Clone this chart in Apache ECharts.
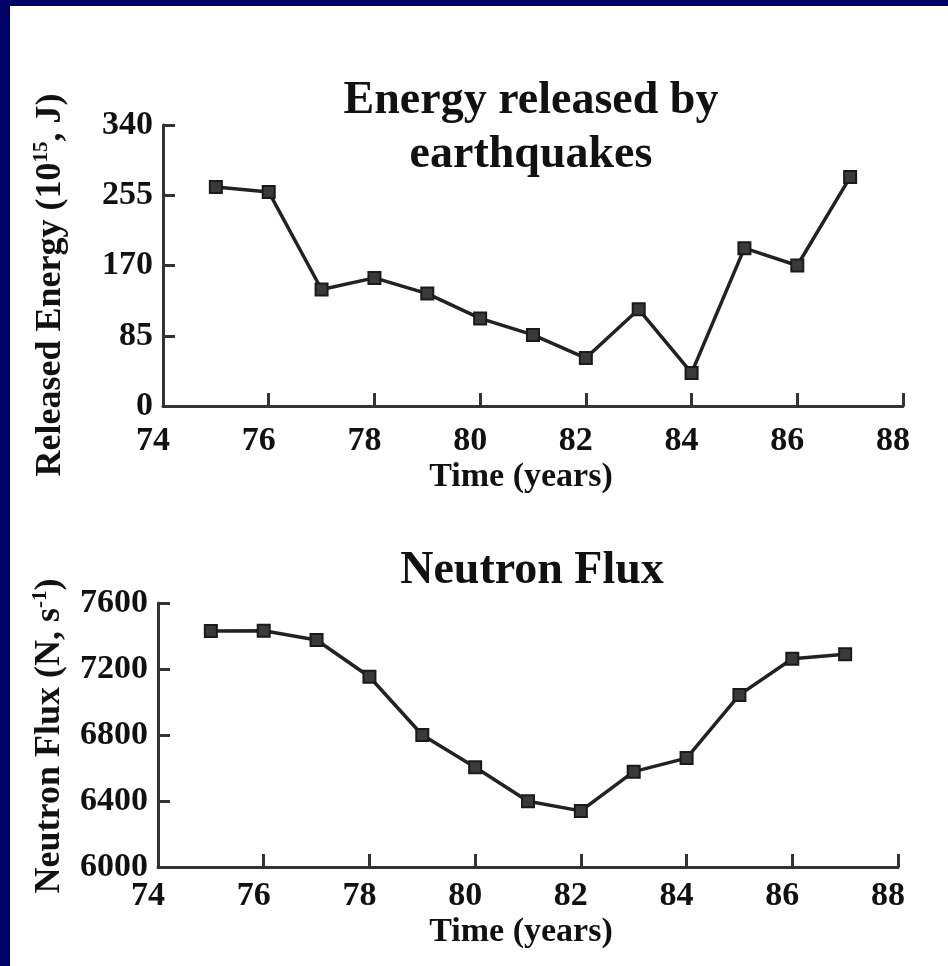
<!DOCTYPE html>
<html>
<head>
<meta charset="utf-8">
<script src="https://cdn.jsdelivr.net/npm/echarts@6/dist/echarts.min.js"></script>
<style>
  html, body { margin: 0; padding: 0; background: #ffffff; }
  #chart { position: absolute; left: 0; top: 0; width: 948px; height: 966px; }
  .bar { position: absolute; background: #000066; z-index: 10; }
</style>
</head>
<body>
<div id="chart"></div>
<div class="bar" style="left:0;top:0;width:948px;height:6px;"></div>
<div class="bar" style="left:0;top:0;width:10px;height:966px;"></div>
<script>
// ---- data ----
const years = [75, 76, 77, 78, 79, 80, 81, 82, 83, 84, 85, 86, 87];
const energy = [265, 259, 141, 155, 136, 106, 86, 58, 117, 40, 191, 170, 277];
const flux = [7430, 7432, 7376, 7153, 6800, 6605, 6398, 6340, 6578, 6660, 7043, 7262, 7290];
const xTicks = [74, 76, 78, 80, 82, 84, 86, 88];
const energyTicks = [0, 85, 170, 255, 340];
const fluxTicks = [6000, 6400, 6800, 7200, 7600];

const FONT = 'Liberation Serif';
const INK = '#111111';
const AXIS = '#333333';

function xAxisCfg(gridIndex, labelMargin) {
  return {
    type: 'value', gridIndex: gridIndex,
    min: xTicks[0], max: xTicks[xTicks.length - 1], interval: xTicks[1] - xTicks[0],
    axisLine: { show: true, onZero: false, lineStyle: { color: AXIS, width: 3 } },
    axisTick: { show: true, inside: true, length: 13, lineStyle: { color: AXIS, width: 3 } },
    axisLabel: { show: true, margin: labelMargin, color: INK, fontFamily: FONT, fontWeight: 'bold', fontSize: 34, padding: [0, 20, 0, 0],
      formatter: function (v) { return String(v); } },
    splitLine: { show: false }
  };
}
function yAxisCfg(gridIndex, ticks) {
  return {
    type: 'value', gridIndex: gridIndex,
    min: ticks[0], max: ticks[ticks.length - 1], interval: ticks[1] - ticks[0],
    axisLine: { show: true, onZero: false, lineStyle: { color: AXIS, width: 3 } },
    axisTick: { show: true, inside: true, length: 12, lineStyle: { color: AXIS, width: 3 } },
    axisLabel: { show: true, margin: 10, color: INK, fontFamily: FONT, fontWeight: 'bold', fontSize: 34,
      formatter: function (v) { return String(v); } },
    splitLine: { show: false }
  };
}
function seriesCfg(idx, values) {
  return {
    type: 'line', xAxisIndex: idx, yAxisIndex: idx,
    data: years.map((y, i) => [y, values[i]]),
    symbol: 'rect', symbolSize: 12,
    lineStyle: { color: '#222222', width: 3.5 },
    itemStyle: { color: '#3a3a3a', borderColor: '#1a1a1a', borderWidth: 2 },
    animation: false
  };
}

const chart = echarts.init(document.getElementById('chart'), null, { renderer: 'canvas' });
chart.setOption({
  backgroundColor: '#ffffff',
  animation: false,
  title: [
    { text: 'Energy released by\nearthquakes', left: 531, top: 74, textAlign: 'center', padding: 0,
      textStyle: { fontFamily: FONT, fontWeight: 'bold', fontSize: 46, lineHeight: 54, color: INK } },
    { text: 'Neutron Flux', left: 532, top: 544, textAlign: 'center', padding: 0,
      textStyle: { fontFamily: FONT, fontWeight: 'bold', fontSize: 46, lineHeight: 54, color: INK } }
  ],
  grid: [
    { left: 163, top: 125, width: 740, height: 281 },
    { left: 158, top: 603, width: 740, height: 264 }
  ],
  xAxis: [xAxisCfg(0, 18), xAxisCfg(1, 12)],
  yAxis: [yAxisCfg(0, energyTicks), yAxisCfg(1, fluxTicks)],
  series: [seriesCfg(0, energy), seriesCfg(1, flux)],
  graphic: [
    { type: 'text', x: 521, y: 477, style: { text: 'Time (years)', font: 'bold 34px "Liberation Serif"', fill: INK, align: 'center', verticalAlign: 'middle' } },
    { type: 'text', x: 521, y: 932, style: { text: 'Time (years)', font: 'bold 34px "Liberation Serif"', fill: INK, align: 'center', verticalAlign: 'middle' } },
    { type: 'text', x: 51, y: 285, rotation: Math.PI / 2,
      style: { text: '{a|Released Energy (10}{s|15}{a|, J)}', fill: INK, align: 'center', verticalAlign: 'middle',
        rich: { a: { font: 'bold 36px "Liberation Serif"', lineHeight: 40, fill: INK },
                s: { font: 'bold 21px "Liberation Serif"', lineHeight: 14, verticalAlign: 'top', fill: INK } } } },
    { type: 'text', x: 50, y: 736, rotation: Math.PI / 2,
      style: { text: '{a|Neutron Flux (N, s}{s|-1}{a|)}', fill: INK, align: 'center', verticalAlign: 'middle',
        rich: { a: { font: 'bold 36px "Liberation Serif"', lineHeight: 40, fill: INK },
                s: { font: 'bold 21px "Liberation Serif"', lineHeight: 14, verticalAlign: 'top', fill: INK } } } }
  ]
});
</script>
</body>
</html>
